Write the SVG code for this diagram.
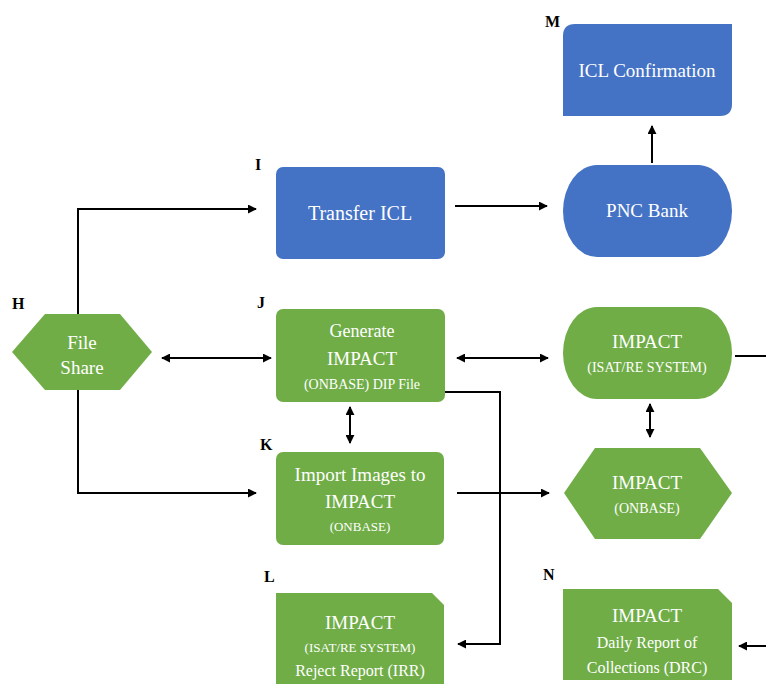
<svg xmlns="http://www.w3.org/2000/svg" width="766" height="684" viewBox="0 0 766 684">
<defs>
<marker id="ah" viewBox="0 0 10 10" refX="9" refY="5" markerWidth="4.5" markerHeight="4.5" orient="auto-start-reverse" markerUnits="strokeWidth">
<path d="M0,0 L10,5 L0,10 Z" fill="#000"/>
</marker>
<style>
.blue{fill:#4472C4}
.green{fill:#70AD47}
text{font-family:"Liberation Serif","Times New Roman",serif}
.t{fill:#fff;text-anchor:middle}
.big{font-size:19px}
.mid{font-size:16px}
.sm{font-size:14px}
.xs{font-size:13px}
.lbl{font-weight:bold;font-size:16px;fill:#000}
.c{fill:none;stroke:#000;stroke-width:2}
</style>
</defs>
<rect width="766" height="684" fill="#fff"/>

<g id="connectors">
<path class="c" d="M78,314 V209 H256" marker-end="url(#ah)"/>
<path class="c" d="M78,390 V493 H256" marker-end="url(#ah)"/>
<path class="c" d="M162,358 H271" marker-start="url(#ah)" marker-end="url(#ah)"/>
<path class="c" d="M455,206 H547" marker-end="url(#ah)"/>
<path class="c" d="M652,163 V126" marker-end="url(#ah)"/>
<path class="c" d="M457,358 H548" marker-start="url(#ah)" marker-end="url(#ah)"/>
<path class="c" d="M735,356 H766"/>
<path class="c" d="M650,404 V437" marker-start="url(#ah)" marker-end="url(#ah)"/>
<path class="c" d="M350,407 V443" marker-start="url(#ah)" marker-end="url(#ah)"/>
<path class="c" d="M457,493 H549" marker-end="url(#ah)"/>
<path class="c" d="M445,392 H500 V644 H458" marker-end="url(#ah)"/>
<path class="c" d="M766,646 H739" marker-end="url(#ah)"/>
</g>

<g id="M" font-family="Liberation Serif, serif">
<text class="lbl" x="545" y="27">M</text>
<path class="blue" d="M575,24 H732 V104 Q732,116 720,116 H563 V36 Q563,24 575,24 Z"/>
<text class="t big" x="647" y="77">ICL Confirmation</text>
</g>

<g id="I" font-family="Liberation Serif, serif">
<text class="lbl" x="255" y="170">I</text>
<rect class="blue" x="276" y="167" width="169" height="92" rx="7"/>
<text class="t big" x="360" y="220" style="font-size:20px">Transfer ICL</text>
</g>

<g id="PNC" font-family="Liberation Serif, serif">
<rect class="blue" x="563" y="165" width="169" height="92" rx="34" ry="46"/>
<text class="t big" x="647" y="217">PNC Bank</text>
</g>

<g id="H" font-family="Liberation Serif, serif">
<text class="lbl" x="12" y="309">H</text>
<polygon class="green" points="12,352 45,314 120,314 152,352 120,390 45,390"/>
<text class="t big" x="82" y="349">File</text>
<text class="t big" x="82" y="374">Share</text>
</g>

<g id="J" font-family="Liberation Serif, serif">
<text class="lbl" x="257" y="308">J</text>
<rect class="green" x="276" y="309" width="169" height="93" rx="7"/>
<text class="t" x="362" y="337" style="font-size:18px">Generate</text>
<text class="t big" x="362" y="365">IMPACT</text>
<text class="t sm" x="362" y="389">(ONBASE) DIP File</text>
</g>

<g id="ISAT" font-family="Liberation Serif, serif">
<rect class="green" x="563" y="307" width="169" height="92" rx="34" ry="46"/>
<text class="t big" x="647" y="348">IMPACT</text>
<text class="t sm" x="647" y="372">(ISAT/RE SYSTEM)</text>
</g>

<g id="K" font-family="Liberation Serif, serif">
<text class="lbl" x="260" y="450">K</text>
<rect class="green" x="276" y="452" width="168" height="93" rx="7"/>
<text class="t big" x="360" y="481">Import Images to</text>
<text class="t big" x="360" y="508">IMPACT</text>
<text class="t xs" x="360" y="531">(ONBASE)</text>
</g>

<g id="ONBASE" font-family="Liberation Serif, serif">
<polygon class="green" points="564,493 595,448 700,448 732,493 700,539 595,539"/>
<text class="t big" x="647" y="489">IMPACT</text>
<text class="t sm" x="647" y="513">(ONBASE)</text>
</g>

<g id="L" font-family="Liberation Serif, serif">
<text class="lbl" x="264" y="582">L</text>
<path class="green" d="M276,593 H432 L444,605 V690 H276 Z"/>
<text class="t big" x="360" y="629">IMPACT</text>
<text class="t xs" x="360" y="652">(ISAT/RE SYSTEM)</text>
<text class="t mid" x="360" y="676">Reject Report (IRR)</text>
</g>

<g id="N" font-family="Liberation Serif, serif">
<text class="lbl" x="543" y="580">N</text>
<path class="green" d="M563,589 H718 L732,603 V680 H563 Z"/>
<text class="t big" x="647" y="622">IMPACT</text>
<text class="t mid" x="647" y="648">Daily Report of</text>
<text class="t mid" x="647" y="673">Collections (DRC)</text>
</g>
</svg>
